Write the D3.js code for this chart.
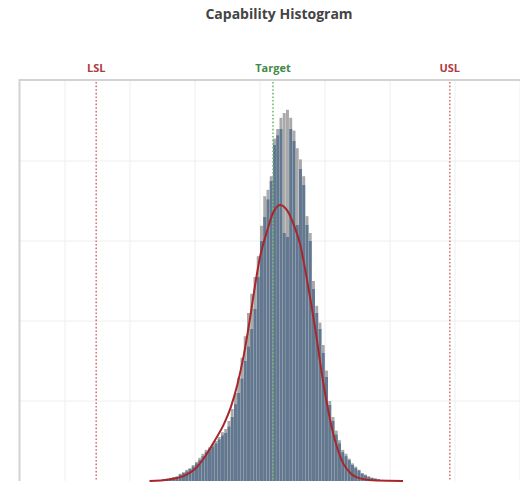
<!DOCTYPE html>
<html>
<head>
<meta charset="utf-8">
<title>Capability Histogram</title>
<script src="https://cdn.jsdelivr.net/npm/d3@7/dist/d3.min.js"></script>
<style>
  * { margin: 0; padding: 0; }
  body { background: #fff; }
  #chart { width: 520px; height: 483px; }
</style>
</head>
<body>
<div id="chart"></div>
<script>
// bins start at 23, width 0.5
var binStart = 23;
var binWidth = 0.5;
// gray (outer) histogram counts
var grayCounts = [0, 0, 1, 1, 2, 3, 4, 5, 6, 9, 11, 14, 16, 20, 24, 29, 34, 39, 42, 46,
  50, 55, 61, 65, 75, 90, 110, 129, 154, 181, 210, 234, 255, 281, 319, 356, 364, 381, 428, 440,
  454, 460, 464, 454, 438, 416, 402, 381, 331, 310, 250, 219, 198, 170, 138, 100, 80, 63, 51, 39,
  34, 28, 22, 18, 14, 10, 8, 6, 4, 3, 2, 1, 1, 0];
// blue (front) histogram counts
var blueCounts = [0, 0, 1, 1, 2, 2, 3, 4, 5, 8, 10, 12, 15, 18, 22, 26, 31, 36, 40, 43,
  47, 52, 57, 60, 68, 80, 96, 110, 128, 150, 168, 190, 215, 255, 300, 330, 352, 375, 420, 432,
  440, 310, 305, 440, 425, 320, 390, 370, 320, 300, 240, 210, 190, 160, 130, 95, 75, 58, 47, 36,
  31, 26, 20, 16, 13, 9, 7, 5, 4, 3, 2, 1, 1, 0];
// fitted normal curve
var curveX = [23, 26, 28.5, 30, 31.5, 33, 34.5, 35.5, 36.5, 37.5, 38.5, 39.25, 40, 41, 42, 43.1,
  44.2, 45.3, 46.2, 47, 47.8, 48.6, 49.5, 50.5, 51.5, 52.8, 54, 55.5, 58, 62];
var curveY = [0, 2, 7, 15, 30, 50, 72, 92, 120, 157, 205, 245, 280, 310, 335, 345,
  338, 318, 295, 262, 225, 185, 135, 88, 52, 22, 9, 3, 0.5, 0];
var specNames = ['LSL', 'Target', 'USL'];
var specValues = [14.8, 42.0, 69.2];
var specColors = ['#b03a3e', '#3f8a45', '#b03a3e'];
var xTicks = [10, 20, 30, 40, 50, 60, 70, 80];
var yTicks = [100, 200, 300, 400];

(function() {
  var W = 520, H = 483;
  var left = 19.5, right = 520, top = 80, bot = 481;

  var svg = d3.select('#chart').append('svg')
      .attr('width', W)
      .attr('height', H)
      .style('font-family', '"Open Sans", sans-serif');

  var x = d3.scaleLinear().domain([3, 80]).range([left, right]);
  var y = d3.scaleLinear().domain([0, 500]).range([bot, top + 1]);

  // title
  svg.append('text')
      .attr('x', 279).attr('y', 19)
      .attr('text-anchor', 'middle')
      .attr('font-size', '14px')
      .attr('font-weight', 'bold')
      .attr('fill', '#444')
      .text('Capability Histogram');

  // grid
  svg.append('g').selectAll('line').data(xTicks)
    .enter().append('line')
      .attr('x1', function(d) { return x(d); })
      .attr('x2', function(d) { return x(d); })
      .attr('y1', top).attr('y2', bot)
      .attr('stroke', '#eeeeee').attr('stroke-width', 1);
  svg.append('g').selectAll('line').data(yTicks)
    .enter().append('line')
      .attr('x1', left).attr('x2', right)
      .attr('y1', function(d) { return y(d); })
      .attr('y2', function(d) { return y(d); })
      .attr('stroke', '#eeeeee').attr('stroke-width', 1);

  // frame
  svg.append('path')
      .attr('d', 'M' + right + ' ' + top + ' H' + left + ' V' + bot)
      .attr('fill', 'none')
      .attr('stroke', '#d2d2d2')
      .attr('stroke-width', 2);

  var bw = x(binStart + binWidth) - x(binStart);

  // gray bars
  svg.append('g').selectAll('rect').data(grayCounts)
    .enter().append('rect')
      .attr('x', function(d, i) { return x(binStart + i * binWidth); })
      .attr('y', function(d) { return y(d); })
      .attr('width', bw - 0.3)
      .attr('height', function(d) { return bot - y(d); })
      .attr('fill', '#a9a9a9');

  // blue bars
  svg.append('g').selectAll('rect').data(blueCounts)
    .enter().append('rect')
      .attr('x', function(d, i) { return x(binStart + i * binWidth); })
      .attr('y', function(d) { return y(d); })
      .attr('width', bw - 0.3)
      .attr('height', function(d) { return bot - y(d); })
      .attr('fill', '#627891');

  // spec lines
  specValues.forEach(function(v, i) {
    svg.append('line')
        .attr('x1', x(v)).attr('x2', x(v))
        .attr('y1', top + 2).attr('y2', bot)
        .attr('stroke', i == 1 ? '#74b877' : '#d87474')
        .attr('stroke-width', 1.6)
        .attr('stroke-dasharray', '1.6,2');
    svg.append('text')
        .attr('x', x(v)).attr('y', 72)
        .attr('text-anchor', 'middle')
        .attr('font-size', '11px')
        .attr('font-weight', 'bold')
        .attr('fill', specColors[i])
        .text(specNames[i]);
  });

  // normal curve
  var pts = curveX.map(function(v, i) { return [v, curveY[i]]; });
  svg.append('path')
      .attr('d', d3.line()
        .x(function(d) { return x(d[0]); })
        .y(function(d) { return y(d[1]); })
        .curve(d3.curveMonotoneX)(pts))
      .attr('fill', 'none')
      .attr('stroke', '#a8262b')
      .attr('stroke-width', 2);
})();
</script>
</body>
</html>
